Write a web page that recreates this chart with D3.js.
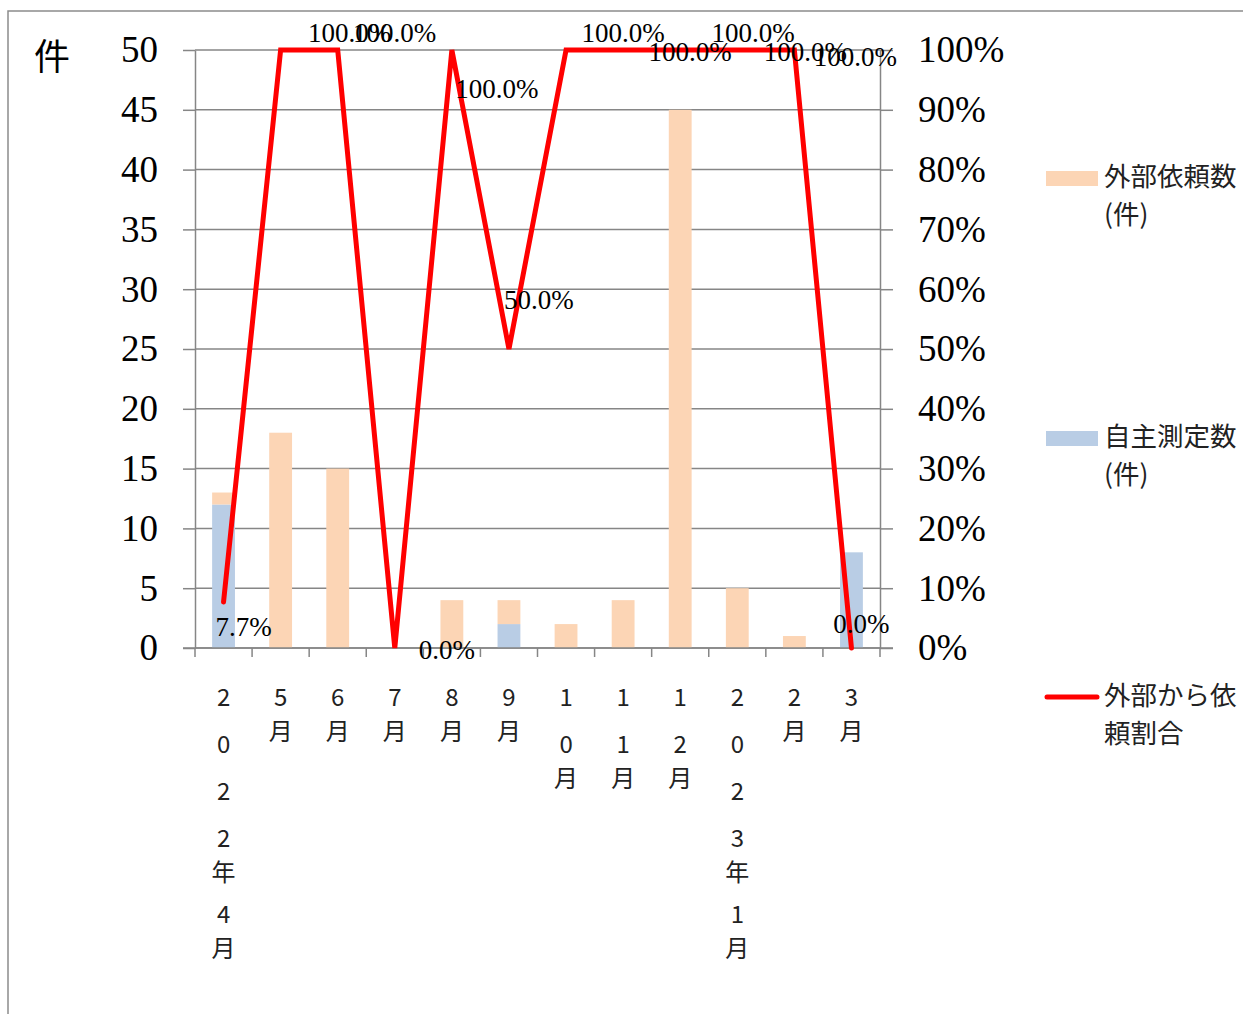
<!DOCTYPE html>
<html>
<head>
<meta charset="utf-8">
<script src="https://cdn.jsdelivr.net/npm/d3@7"></script>
<style>
  body { margin: 0; background: #fff; }
  svg { display: block; }
</style>
</head>
<body>
<div id="chart"></div>
<script>
const months = ["2022年4月", "5月", "6月", "7月", "8月", "9月", "10月", "11月", "12月", "2023年1月", "2月", "3月"];
const externalCount = [1, 18, 15, 0, 4, 2, 2, 4, 45, 5, 1, 0];
const selfCount = [12, 0, 0, 0, 0, 2, 0, 0, 0, 0, 0, 8];
const externalRatio = [7.7, 100, 100, 0, 100, 50, 100, 100, 100, 100, 100, 0];
const leftTicks = [0, 5, 10, 15, 20, 25, 30, 35, 40, 45, 50];
const rightTicks = [0, 10, 20, 30, 40, 50, 60, 70, 80, 90, 100];
const legendNames = [["外部依頼数", "(件)"], ["自主測定数", "(件)"], ["外部から依", "頼割合"]];

// label nudges (px) relative to each point, like the hand-placed labels in the original
const labelNudge = [[20, 25], [69, -17], [57, -17], [52, 2], [45, 39], [30, -49],
                    [57, -17], [67, 2], [73, -17], [68, 2], [61, 7], [10, -24]];

const W = 1243, H = 1014;
const plot = { left: 195, right: 880, top: 50, bottom: 648 };
const serif = "Liberation Serif, Times New Roman, serif";
const gothic = "Noto Sans CJK JP, Noto Sans, sans-serif";
const gridColor = "#868686";

const svg = d3.select("#chart").append("svg")
  .attr("width", W)
  .attr("height", H);

// outer frame
svg.append("path")
  .attr("d", `M8,${H + 2}V11H${W + 2}`)
  .attr("fill", "none")
  .attr("stroke", "#8c8c8c")
  .attr("stroke-width", 1.5);

const x = d3.scaleBand().domain(months).range([plot.left, plot.right]);
const yL = d3.scaleLinear().domain([0, 50]).range([plot.bottom, plot.top]);
const yR = d3.scaleLinear().domain([0, 100]).range([plot.bottom, plot.top]);

// gridlines
svg.append("g").selectAll("line")
  .data(leftTicks)
  .join("line")
  .attr("x1", plot.left)
  .attr("x2", plot.right)
  .attr("y1", d => yL(d))
  .attr("y2", d => yL(d))
  .attr("stroke", gridColor)
  .attr("stroke-width", 1.5);

// stacked bars
const barW = x.bandwidth() * 0.4;
const bars = svg.append("g");
bars.selectAll("rect.self")
  .data(months)
  .join("rect")
  .attr("class", "self")
  .attr("x", d => x(d) + (x.bandwidth() - barW) / 2)
  .attr("width", barW)
  .attr("y", (d, i) => yL(selfCount[i]))
  .attr("height", (d, i) => yL(0) - yL(selfCount[i]))
  .attr("fill", "#b9cde5");
bars.selectAll("rect.ext")
  .data(months)
  .join("rect")
  .attr("class", "ext")
  .attr("x", d => x(d) + (x.bandwidth() - barW) / 2)
  .attr("width", barW)
  .attr("y", (d, i) => yL(selfCount[i] + externalCount[i]))
  .attr("height", (d, i) => yL(selfCount[i]) - yL(selfCount[i] + externalCount[i]))
  .attr("fill", "#fcd5b5");

// left axis
const gLeft = svg.append("g")
  .attr("transform", `translate(${plot.left},0)`)
  .call(d3.axisLeft(yL).tickValues(leftTicks).tickSize(12).tickSizeOuter(0).tickPadding(25));

// right axis
const gRight = svg.append("g")
  .attr("transform", `translate(${plot.right},0)`)
  .call(d3.axisRight(yR).tickValues(rightTicks).tickSize(13).tickSizeOuter(0).tickPadding(25)
    .tickFormat(d => d + "%"));

[gLeft, gRight].forEach(g => {
  g.attr("font-family", serif).attr("font-size", 37);
  g.select(".domain").attr("stroke", gridColor).attr("stroke-width", 1.5);
  g.selectAll(".tick line").attr("stroke", gridColor).attr("stroke-width", 1.5);
  g.selectAll(".tick text")
    .attr("fill", "#000")
    .attr("font-family", serif)
    .attr("font-size", 37);
});

// bottom axis line + category boundary ticks
svg.append("line")
  .attr("x1", plot.left - 12)
  .attr("x2", plot.right + 13)
  .attr("y1", plot.bottom)
  .attr("y2", plot.bottom)
  .attr("stroke", gridColor)
  .attr("stroke-width", 1.5);
const bounds = months.map(m => x(m)).concat([x.range()[1]]);
svg.append("g").selectAll("line")
  .data(bounds)
  .join("line")
  .attr("x1", d => d)
  .attr("x2", d => d)
  .attr("y1", plot.bottom)
  .attr("y2", plot.bottom + 9)
  .attr("stroke", gridColor)
  .attr("stroke-width", 1.5);

// vertical category labels, one character per row
const isDigit = c => /[0-9]/.test(c);
const xLabels = svg.append("g")
  .attr("font-family", gothic)
  .attr("font-size", 24)
  .attr("fill", "#222");
months.forEach(m => {
  const chars = Array.from(m);
  let cy = 695;
  chars.forEach((c, j) => {
    if (j > 0) {
      const prev = chars[j - 1];
      if (isDigit(prev) && isDigit(c)) cy += 47;
      else if (isDigit(prev)) cy += 34;
      else cy += 42;
    }
    xLabels.append("text")
      .attr("x", x(m) + x.bandwidth() / 2)
      .attr("y", cy)
      .attr("text-anchor", "middle")
      .attr("dominant-baseline", "central")
      .text(c);
  });
});

// left unit label
svg.append("text")
  .attr("x", 52)
  .attr("y", 54)
  .attr("text-anchor", "middle")
  .attr("dominant-baseline", "central")
  .attr("font-family", gothic)
  .attr("font-size", 36)
  .text("件");

// ratio line
const line = d3.line()
  .x((d, i) => x(months[i]) + x.bandwidth() / 2)
  .y(d => yR(d));
svg.append("path")
  .datum(externalRatio)
  .attr("fill", "none")
  .attr("stroke", "#ff0000")
  .attr("stroke-width", 5)
  .attr("stroke-linecap", "round")
  .attr("stroke-linejoin", "miter")
  .attr("stroke-miterlimit", 2)
  .attr("d", line);

// data labels
svg.append("g").selectAll("text")
  .data(externalRatio)
  .join("text")
  .attr("x", (d, i) => x(months[i]) + x.bandwidth() / 2 + labelNudge[i][0])
  .attr("y", (d, i) => yR(d) + labelNudge[i][1])
  .attr("text-anchor", "middle")
  .attr("dominant-baseline", "central")
  .attr("font-family", serif)
  .attr("font-size", 27)
  .attr("fill", "#000")
  .text(d => d.toFixed(1) + "%");

// legend
const legend = svg.append("g")
  .attr("font-family", gothic)
  .attr("font-size", 26.5)
  .attr("fill", "#222");
const legendY = [178, 438, 697];
legend.append("rect").attr("x", 1046).attr("y", legendY[0] - 7).attr("width", 52).attr("height", 15).attr("fill", "#fcd5b5");
legend.append("rect").attr("x", 1046).attr("y", legendY[1] - 7).attr("width", 52).attr("height", 15).attr("fill", "#b9cde5");
legend.append("line")
  .attr("x1", 1047).attr("x2", 1097)
  .attr("y1", legendY[2]).attr("y2", legendY[2])
  .attr("stroke", "#ff0000").attr("stroke-width", 5).attr("stroke-linecap", "round");
legendNames.forEach((lines, k) => {
  lines.forEach((t, j) => {
    legend.append("text")
      .attr("x", 1104)
      .attr("y", legendY[k] - 4 + j * 38)
      .attr("dominant-baseline", "central")
      .text(t);
  });
});
</script>
</body>
</html>
